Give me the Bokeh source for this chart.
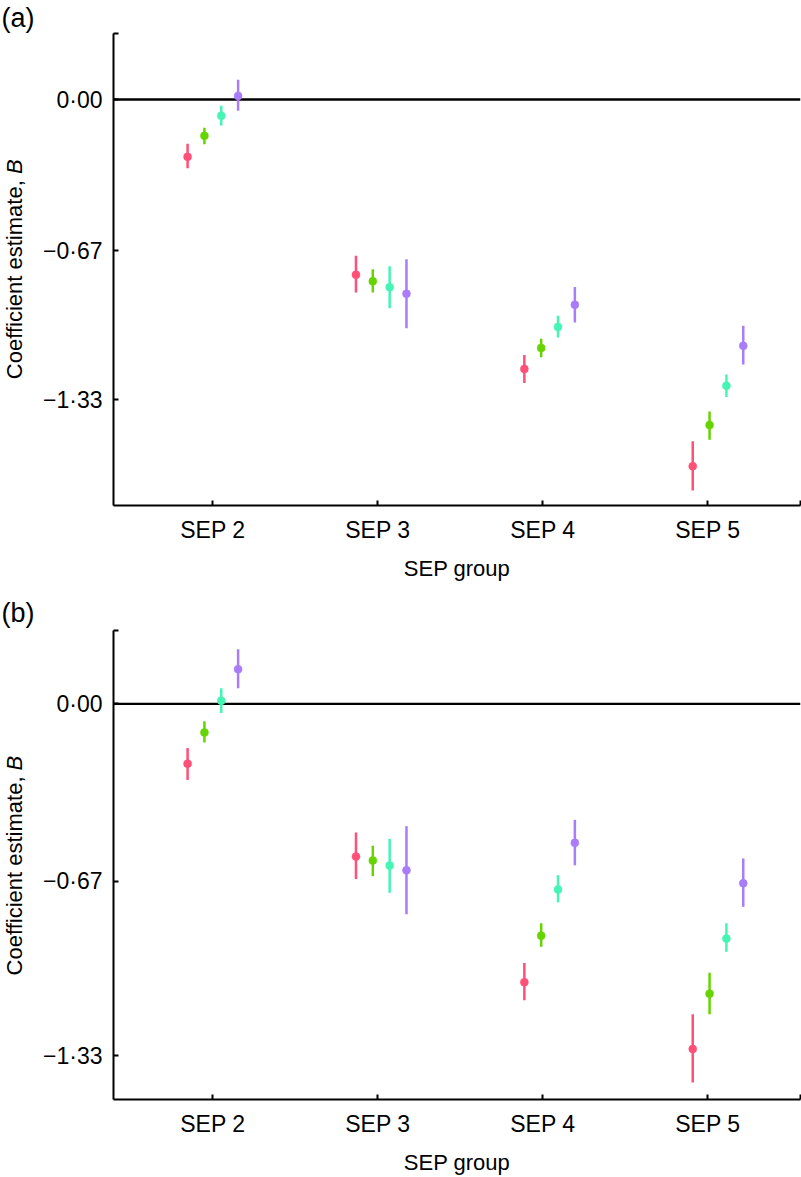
from math import pi
from bokeh.plotting import figure
from bokeh.layouts import column, row
from bokeh.models import (ColumnDataSource, FixedTicker, CustomJSTickFormatter,
                          Span, Label, Range1d)
from bokeh.embed import file_html
from bokeh.resources import INLINE

# ---------------- data ----------------
groups = ["SEP 2", "SEP 3", "SEP 4", "SEP 5"]
y_tick_values = [-1.33, -0.67, 0.0]

# Panel (a): estimate, lower and upper bound per series
a_est_1 = [-0.254, -0.776, -1.193, -1.624]
a_lo_1 = [-0.304, -0.855, -1.256, -1.732]
a_hi_1 = [-0.196, -0.692, -1.131, -1.513]
a_est_2 = [-0.161, -0.805, -1.100, -1.442]
a_lo_2 = [-0.198, -0.855, -1.141, -1.507]
a_hi_2 = [-0.125, -0.752, -1.060, -1.382]
a_est_3 = [-0.072, -0.831, -1.007, -1.268]
a_lo_3 = [-0.115, -0.925, -1.054, -1.317]
a_hi_3 = [-0.028, -0.738, -0.958, -1.218]
a_est_4 = [0.016, -0.860, -0.909, -1.091]
a_lo_4 = [-0.050, -1.013, -0.988, -1.174]
a_hi_4 = [0.087, -0.707, -0.830, -1.002]

# Panel (b)
b_est_1 = [-0.226, -0.577, -1.052, -1.304]
b_lo_1 = [-0.288, -0.662, -1.120, -1.431]
b_hi_1 = [-0.167, -0.486, -0.979, -1.173]
b_est_2 = [-0.108, -0.592, -0.876, -1.095]
b_lo_2 = [-0.146, -0.651, -0.918, -1.173]
b_hi_2 = [-0.066, -0.536, -0.829, -1.016]
b_est_3 = [0.012, -0.611, -0.701, -0.887]
b_lo_3 = [-0.034, -0.714, -0.750, -0.937]
b_hi_3 = [0.059, -0.510, -0.647, -0.829]
b_est_4 = [0.131, -0.629, -0.525, -0.678]
b_lo_4 = [0.059, -0.795, -0.610, -0.767]
b_hi_4 = [0.206, -0.462, -0.438, -0.584]

# ---------------- styling / layout ----------------
COLORS = ["#ff5078", "#66d400", "#44f5b4", "#a97cf8"]
DODGE = [-0.15, -0.05, 0.05, 0.15]
TICK_X = [1.0, 1.98, 2.96, 3.94]
FONT = "Liberation Sans"
LEFT_W = 36
MAIN_W = 801 - LEFT_W
X_START, X_END = 0.410, 4.490


def make_panel(series, y_start, y_end, height, border_top, border_bottom, letter,
               letter_standoff):
    p = figure(width=MAIN_W, height=height, output_backend="svg", toolbar_location=None,
               x_range=Range1d(X_START, X_END), y_range=Range1d(y_start, y_end),
               min_border_left=113 - LEFT_W, min_border_right=1,
               min_border_top=border_top, min_border_bottom=border_bottom)
    p.outline_line_color = None
    p.grid.visible = False
    p.background_fill_color = "white"

    p.add_layout(Span(location=0, dimension="width", line_color="black",
                      line_width=2.4, level="underlay"))

    for j, (est, lo, hi) in enumerate(series):
        xs = [i + 1 + DODGE[j] for i in range(len(groups))]
        src = ColumnDataSource(dict(x=xs, est=est, lo=lo, hi=hi))
        p.segment(x0="x", y0="lo", x1="x", y1="hi", source=src,
                  line_color=COLORS[j], line_width=2.5)
        p.scatter(x="x", y="est", source=src, size=8,
                  fill_color=COLORS[j], line_color=COLORS[j], line_width=0.5)

    # x axis
    xax = p.xaxis[0]
    xax.ticker = FixedTicker(ticks=TICK_X + [X_END])
    xax.formatter = CustomJSTickFormatter(
        args=dict(pos=TICK_X, labels=groups),
        code="""
        for (let i = 0; i < pos.length; i++) {
          if (Math.abs(tick - pos[i]) < 1e-6) return labels[i];
        }
        return '';
        """)
    xax.axis_label = "SEP group"
    # y axis
    yax = p.yaxis[0]
    yax.ticker = FixedTicker(ticks=y_tick_values + [y_end])
    yax.formatter = CustomJSTickFormatter(
        args=dict(top=y_end),
        code="""
        if (Math.abs(tick - top) < 1e-6) return '';
        const s = Math.abs(tick).toFixed(2).replace('.', '\u00b7');
        return (tick < -1e-9 ? '\u2212' : '') + s;
        """)

    for ax in (xax, yax):
        ax.axis_line_width = 2
        ax.axis_line_color = "black"
        ax.major_tick_line_width = 2
        ax.major_tick_line_color = "black"
        ax.major_tick_in = 5
        ax.major_tick_out = 0
        ax.minor_tick_line_color = None
        ax.major_label_text_font = FONT
        ax.major_label_text_font_size = "23px"
        ax.major_label_text_color = "black"
        ax.axis_label_text_font = FONT
        ax.axis_label_text_font_size = "22px"
        ax.axis_label_text_font_style = "normal"
        ax.axis_label_text_color = "black"
    xax.major_label_standoff = 11
    xax.axis_label_standoff = 10
    yax.major_label_standoff = 11

    # left strip (frame aligned with the panel's frame) holding the
    # y-axis title with an italic B, and the panel letter as its title
    frame_h = height - border_top - border_bottom
    q = figure(width=LEFT_W, height=height, output_backend="svg", toolbar_location=None,
               x_range=Range1d(0, LEFT_W), y_range=Range1d(0, frame_h),
               min_border_left=0, min_border_right=0,
               min_border_top=border_top, min_border_bottom=border_bottom,
               x_axis_location=None, y_axis_location=None)
    q.outline_line_color = None
    q.grid.visible = False
    q.title.text = letter
    q.title.text_font = FONT
    q.title.text_font_size = "27px"
    q.title.text_font_style = "normal"
    q.title.text_color = "black"
    q.title.align = "left"
    q.title.offset = 1
    q.title.standoff = letter_standoff

    yc = frame_h / 2
    fs = 22
    w1 = 9.06 * fs
    wsp = 0.278 * fs
    wb = 0.667 * fs
    anchor = yc + ((w1 + wsp) - wb) / 2
    q.add_layout(Label(x=14, y=anchor - wsp, text="Coefficient estimate,",
                       angle=pi / 2, text_align="right", text_baseline="middle",
                       text_font=FONT, text_font_size=f"{fs}px", text_color="black"))
    q.add_layout(Label(x=14, y=anchor, text="B", angle=pi / 2,
                       text_align="left", text_baseline="middle",
                       text_font=FONT, text_font_size=f"{fs}px",
                       text_font_style="italic", text_color="black"))
    return row(q, p)


pa = make_panel([(a_est_1, a_lo_1, a_hi_1), (a_est_2, a_lo_2, a_hi_2),
                 (a_est_3, a_lo_3, a_hi_3), (a_est_4, a_lo_4, a_hi_4)],
                -1.798, 0.2923, 590, 33, 85, "(a)", 1)
pb = make_panel([(b_est_1, b_lo_1, b_hi_1), (b_est_2, b_lo_2, b_hi_2),
                 (b_est_3, b_lo_3, b_hi_3), (b_est_4, b_lo_4, b_hi_4)],
                -1.495, 0.2773, 587, 40, 74, "(b)", 5)

layout = column(pa, pb)
open("out.html", "w").write(file_html(layout, INLINE))
